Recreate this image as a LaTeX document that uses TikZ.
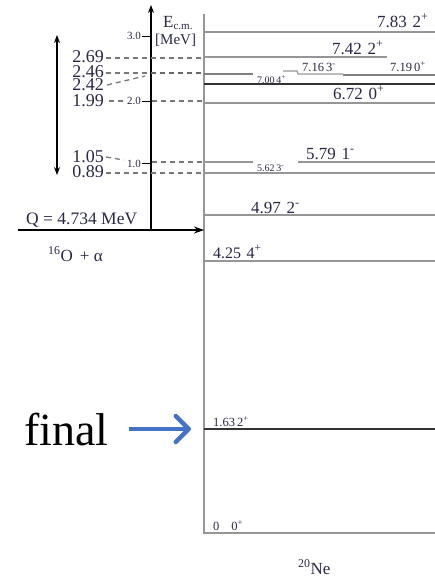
\documentclass[tikz,border=0pt]{standalone}
\usepackage{fontspec}
\setmainfont{Liberation Serif}
\usetikzlibrary{arrows.meta}
\definecolor{txt}{RGB}{40,40,70}
\definecolor{lvlgray}{RGB}{150,150,150}
\definecolor{finalblue}{RGB}{68,114,196}
\tikzset{
  lvl/.style={draw=lvlgray,line width=1.6pt},
  lvlthick/.style={draw=lvlgray!85!black,line width=2.6pt},
  lvldark/.style={draw=black!80,line width=1.3pt},
  dsh/.style={draw=lvlgray!80!black,line width=1.3pt,dash pattern=on 5pt off 4pt},
  dshthick/.style={draw=lvlgray!70!black,line width=2.2pt,dash pattern=on 5pt off 4pt},
  lab/.style={anchor=base west,inner sep=0pt,text=txt,font=\fontsize{17}{17}\selectfont},
  labs/.style={lab,font=\fontsize{12.5}{12.5}\selectfont},
  labxs/.style={lab,font=\fontsize{10}{10}\selectfont},
  llab/.style={anchor=base east,inner sep=0pt,text=txt,font=\fontsize{18}{18}\selectfont},
  tick/.style={anchor=east,inner sep=0pt,text=txt,font=\fontsize{11}{11}\selectfont},
  axis/.style={draw=black,line width=1.1pt},
}
\begin{document}
\begin{tikzpicture}[x=1pt,y=-1pt]
\useasboundingbox (0,0) rectangle (435,579);
% box
\draw[lvl,line width=2pt] (204,14) -- (204,533) -- (435,533);
% levels
\draw[lvl] (204,32) -- (435,32);
\draw[lvl] (204,57) -- (387,57);
\draw[lvlthick] (204,74) -- (253,74);
\draw[lvlthick] (343,75) -- (435,75);
\draw[lvl,line width=1.2pt] (283,71) -- (297,71) -- (298,74) -- (343,74);
\draw[lvldark] (204,84) -- (435,84);
\draw[lvl] (204,103) -- (435,103);
\draw[lvl] (204,162) -- (253,162);
\draw[lvl] (298,162) -- (435,162);
\draw[lvl] (204,173) -- (435,173);
\draw[lvl] (204,215) -- (435,215);
\draw[lvl] (204,261) -- (435,261);
\draw[lvldark] (204,429) -- (435,429);
% level labels
\node[lab] (l783) at (377,27) {7.83\,\,2\textsuperscript{+}};
\node[lab] (l742) at (332,54) {7.42\,\,2\textsuperscript{+}};
\node[labs] (l716) at (302,71) {7.16\,3\textsuperscript{-}};
\node[labs] (l719) at (390,71) {7.19\,0\textsuperscript{+}};
\node[labxs] (l700) at (257,83) {7.00\,4\textsuperscript{+}};
\node[lab] (l672) at (333,99) {6.72\,\,0\textsuperscript{+}};
\node[lab] (l579) at (306,159) {5.79\,\,1\textsuperscript{-}};
\node[labxs] (l562) at (257,171) {5.62\,3\textsuperscript{-}};
\node[lab] (l497) at (251,213) {4.97\,\,2\textsuperscript{-}};
\node[lab,font=\fontsize{16}{16}\selectfont] (l425) at (213,258) {4.25\,\,4\textsuperscript{+}};
\node[labs] (l163) at (213,426) {1.63\,2\textsuperscript{+}};
\node[labs] (l0) at (213,530) {0\hspace{12pt}0\textsuperscript{+}};
\node[lab] (ne) at (298,574) {\textsuperscript{20}Ne};
% axis
\draw[axis,-{Stealth[length=8pt,width=6pt]}] (151,231) -- (151,5);
\draw[axis,line width=0.8pt] (142,36) -- (151,36);
\draw[axis,line width=0.8pt] (142,101) -- (151,101);
\draw[axis,line width=0.8pt] (142,163) -- (151,163);
\node[tick] (t3) at (141,36) {3.0};
\node[tick] (t2) at (141,101) {2.0};
\node[tick] (t1) at (141,164) {1.0};
\node[lab,font=\fontsize{17}{17}\selectfont] (ecm) at (163,27) {E\textsubscript{\fontsize{11}{11}\selectfont c.m.}};
\node[lab,font=\fontsize{15}{15}\selectfont] (mev) at (155,44) {[MeV]};
% left labels and dashed lines
\node[llab] (e269) at (104,62) {2.69};
\node[llab] (e246) at (104,77) {2.46};
\node[llab] (e242) at (104,90) {2.42};
\node[llab] (e199) at (104,106) {1.99};
\node[llab] (e105) at (104,162) {1.05};
\node[llab] (e089) at (104,177) {0.89};
\draw[dsh] (106,58) -- (204,58);
\draw[dsh] (106,73) -- (151,73);
\draw[dshthick] (151,73) -- (204,73);
\draw[dsh] (107,85) -- (145,76);
\draw[dsh] (109,101) -- (123,101);
\draw[dsh] (152,101) -- (204,101);
\draw[dsh] (106,157) -- (124,160);
\draw[dsh] (152,162) -- (204,162);
\draw[dsh] (106,173) -- (204,173);
% double arrow
\draw[axis,{Stealth[length=8pt,width=6pt]}-{Stealth[length=8pt,width=6pt]}] (57,35) -- (57,175);
% Q arrow
\draw[axis,-{Stealth[length=10pt,width=7pt]}] (18,230) -- (204,230);
\node[lab,font=\fontsize{17.5}{17.5}\selectfont] (q) at (26,224) {Q = 4.734 MeV};
\node[lab] (oa) at (48,261) {\textsuperscript{16}O\, + α};
% final
\node[anchor=base west,inner sep=0pt,font=\fontsize{46}{46}\selectfont] (final) at (24,445) {final};
\coordinate (ftip) at (191,429);
\path (final.east) ++(20,0) coordinate (fa);
\draw[draw=finalblue,line width=4.5pt,-{Straight Barb[length=13pt,width=26pt,line width=4.5pt,round]}] (fa |- ftip) -- (ftip);
\end{tikzpicture}
\end{document}
